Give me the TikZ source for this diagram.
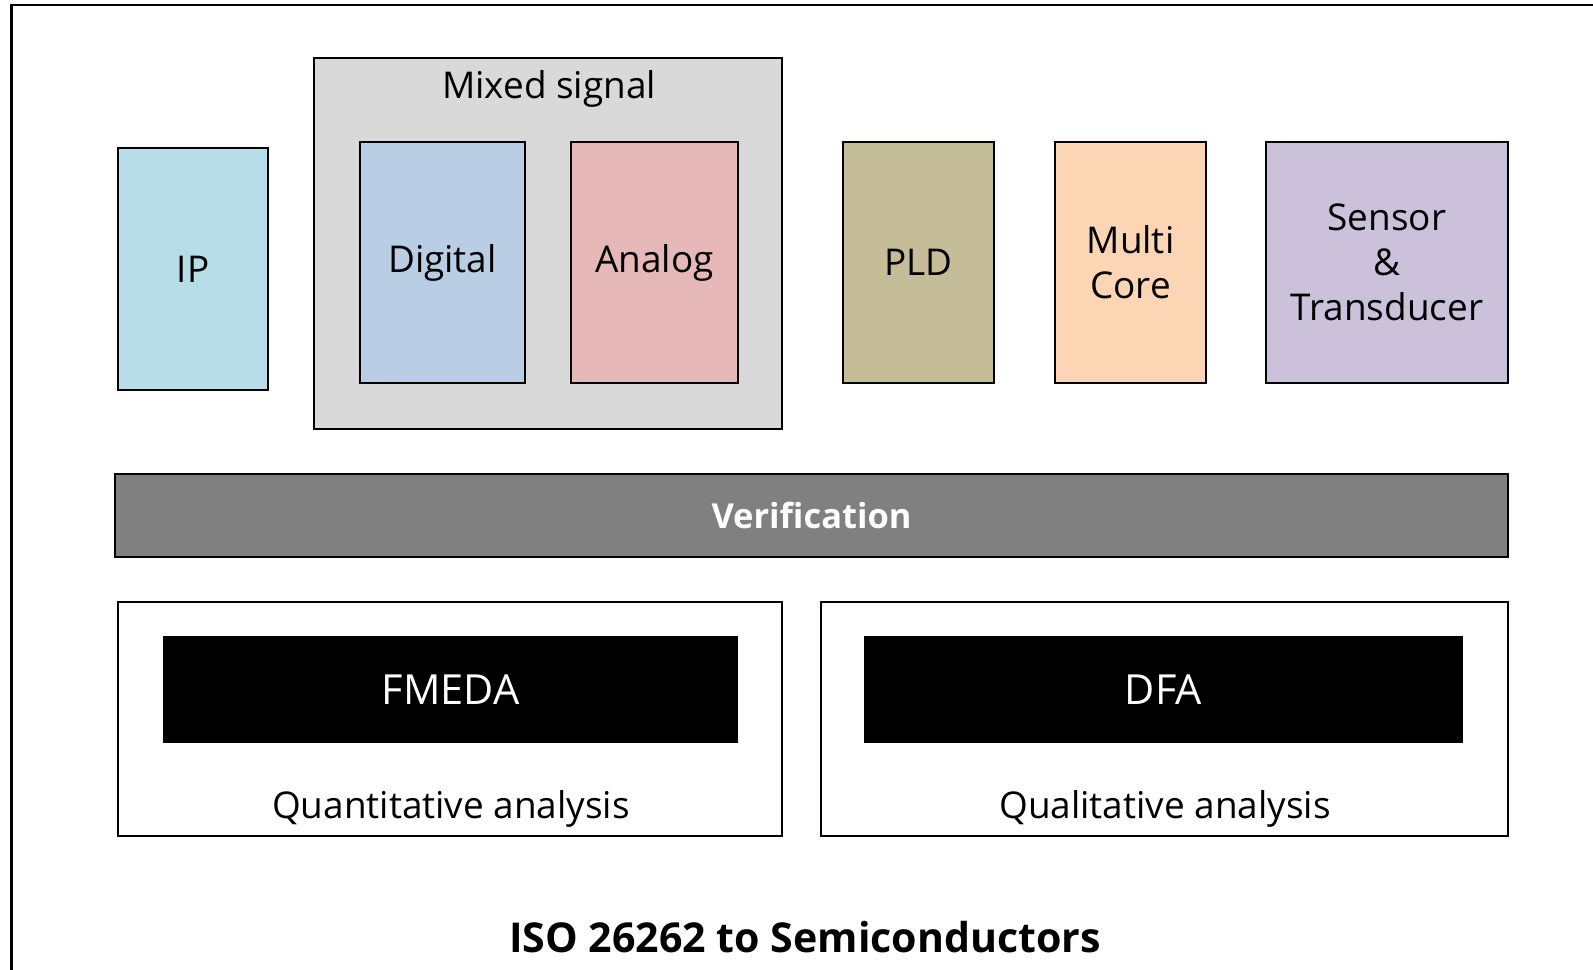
\documentclass[tikz,border=0pt]{standalone}
\usepackage{fontspec}
\setmainfont{Open Sans}
\usepackage{tikz}

\definecolor{ipcol}{HTML}{B7DEE8}
\definecolor{digcol}{HTML}{B9CDE5}
\definecolor{anacol}{HTML}{E6B9B8}
\definecolor{pldcol}{HTML}{C4BD97}
\definecolor{corecol}{HTML}{FCD5B5}
\definecolor{senscol}{HTML}{CCC1DA}
\definecolor{mixcol}{HTML}{D9D9D9}
\definecolor{vercol}{HTML}{808080}

\newcommand{\txt}{\fontsize{10.5}{12.8}\selectfont}

\begin{document}
\begin{tikzpicture}
		\useasboundingbox (0,0) rectangle (15.93,-9.70);
		\tikzstyle{every node}=[font=\txt]
		\tikzset{BlockStyle/.style = {draw=black,line width=0.6pt,shape=rectangle,inner sep=0pt,align=center}}
		\tikzset{AnaStyle/.style = {draw=black,line width=0.6pt,shape=rectangle,inner sep=0pt,minimum width=6.64cm,minimum height=2.34cm}}
		\tikzset{BarStyle/.style = {fill=black,text=white,shape=rectangle,inner sep=0pt,minimum height=1.07cm,font=\fontsize{11.8}{14}\selectfont}}
		% frame
		\draw[line width=0.7pt] (0.115,-9.70) -- (0.115,-0.05) -- (15.93,-0.05);
		% top row
		\node[BlockStyle,fill=ipcol,minimum width=1.50cm,minimum height=2.42cm] (ip) at (1.93,-2.69) {IP};
		\node[BlockStyle,fill=mixcol,minimum width=4.68cm,minimum height=3.71cm] (mixed) at (5.48,-2.435) {};
		\node (mixedlbl) at (5.49,-0.89) {Mixed signal};
		\node[BlockStyle,fill=digcol,minimum width=1.65cm,minimum height=2.41cm] (digital) at (4.425,-2.625) {Digital};
		\node[BlockStyle,fill=anacol,minimum width=1.67cm,minimum height=2.41cm] (analog) at (6.545,-2.625) {Analog};
		\node[BlockStyle,fill=pldcol,minimum width=1.51cm,minimum height=2.41cm] (pld) at (9.185,-2.625) {PLD};
		\node[BlockStyle,fill=corecol,minimum width=1.51cm,minimum height=2.41cm] (core) at (11.305,-2.625) {Multi\\Core};
		\node[BlockStyle,fill=senscol,minimum width=2.42cm,minimum height=2.41cm] (sensor) at (13.87,-2.625) {Sensor\\\&\\Transducer};
		% verification
		\node[BlockStyle,fill=vercol,text=white,minimum width=13.93cm,minimum height=0.83cm,font=\fontsize{9.8}{12}\selectfont\bfseries] (verif) at (8.115,-5.155) {Verification};
		% analyses
		\node[AnaStyle] (quant) at (4.50,-7.19) {};
		\node[BarStyle,minimum width=5.75cm] (fmeda) at (4.505,-6.895) {FMEDA};
		\node (quantlbl) at (4.51,-8.09) {Quantitative analysis};
		\node[AnaStyle,minimum width=6.87cm] (qual) at (11.645,-7.19) {};
		\node[BarStyle,minimum width=5.99cm] (dfa) at (11.635,-6.895) {DFA};
		\node (quallbl) at (11.65,-8.09) {Qualitative analysis};
		\node[font=\fontsize{11.7}{14}\selectfont\bfseries] (title) at (8.05,-9.37) {ISO 26262 to Semiconductors};
	\end{tikzpicture}
\end{document}
